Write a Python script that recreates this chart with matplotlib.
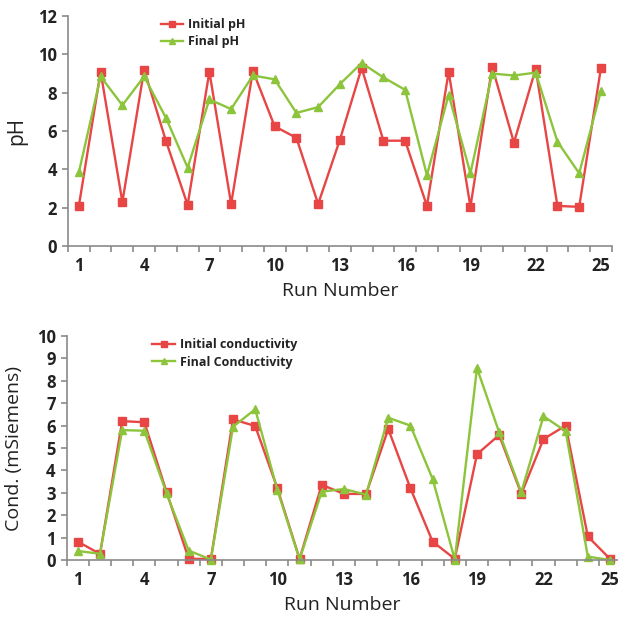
import matplotlib
matplotlib.use("Agg")
import matplotlib.pyplot as plt
from matplotlib.ticker import FixedLocator

runs = list(range(1, 26))
initial_ph = [2.1, 9.1, 2.3, 9.2, 5.5, 2.15, 9.1, 2.2, 9.15, 6.25, 5.65, 2.2, 5.55, 9.3,
              5.5, 5.5, 2.1, 9.1, 2.05, 9.35, 5.4, 9.25, 2.1, 2.05, 9.3]
final_ph = [3.85, 8.85, 7.35, 8.85, 6.7, 4.1, 7.65, 7.15, 8.9, 8.7, 6.95, 7.25, 8.45, 9.55,
            8.8, 8.15, 3.7, 7.9, 3.8, 9.0, 8.9, 9.05, 5.45, 3.8, 8.1]
initial_cond = [0.82, 0.27, 6.2, 6.15, 3.04, 0.05, 0.05, 6.28, 5.98, 3.2, 0.05, 3.36, 2.95,
                2.95, 5.85, 3.2, 0.82, 0.05, 4.72, 5.58, 2.95, 5.4, 6.0, 1.05, 0.05]
final_cond = [0.4, 0.28, 5.8, 5.77, 2.98, 0.42, 0.02, 5.95, 6.73, 3.12, 0.03, 3.05, 3.17,
              2.92, 6.35, 6.0, 3.62, 0.02, 8.57, 5.7, 3.02, 6.42, 5.75, 0.15, 0.0]
x_tick_labels = [1, 4, 7, 10, 13, 16, 19, 22, 25]

RED = '#e84545'
GREEN = '#8cc43c'
TXT = '#222222'
AX = '#8a8a8a'

plt.rcParams['font.family'] = ['Open Sans', 'DejaVu Sans']

fig = plt.figure(figsize=(6.18, 6.17), dpi=100)


def style(ax, ymax, ystep, xmax):
    ax.set_xlim(0.5, xmax)
    ax.set_ylim(0, ymax)
    for s in ('top', 'right'):
        ax.spines[s].set_visible(False)
    for s in ('left', 'bottom'):
        ax.spines[s].set_color(AX)
        ax.spines[s].set_linewidth(1.2)
    ax.set_yticks(range(0, ymax + 1, ystep))
    ax.set_xticks(x_tick_labels)
    ax.set_xticklabels([str(v) for v in x_tick_labels])
    ax.tick_params(axis='x', which='major', length=0, pad=8)
    ax.xaxis.set_minor_locator(FixedLocator([i + 0.5 for i in range(0, 26)]))
    ax.tick_params(axis='x', which='minor', length=4, color=AX, width=1.2)
    ax.tick_params(axis='y', length=4, color=AX, width=1.2, pad=4)
    for lab in ax.get_xticklabels() + ax.get_yticklabels():
        lab.set_fontweight('bold')
        lab.set_fontsize(12)
        lab.set_color(TXT)


ax1 = fig.add_axes([0.110, 0.601, 0.880, 0.373])
ax1.plot(runs, initial_ph, color=RED, lw=1.7, marker='s', ms=6, label='Initial pH')
ax1.plot(runs, final_ph, color=GREEN, lw=1.7, marker='^', ms=5.5, label='Final pH')
style(ax1, 12, 2, 25.5)
ax1.set_ylabel('pH', fontsize=15, color=TXT, labelpad=8)
ax1.set_xlabel('Run Number', fontsize=14, color=TXT, labelpad=5)
leg1 = ax1.legend(loc='upper left', bbox_to_anchor=(0.15, 1.04), frameon=False,
                  handlelength=1.8, handletextpad=0.4, labelspacing=0.35, markerscale=0.8,
                  prop={'size': 9, 'weight': 'bold'})
for t in leg1.get_texts():
    t.set_color(TXT)

ax2 = fig.add_axes([0.108, 0.0924, 0.892, 0.363])
ax2.plot(runs, initial_cond, color=RED, lw=1.7, marker='s', ms=6, label='Initial conductivity',
         clip_on=False)
ax2.plot(runs, final_cond, color=GREEN, lw=1.7, marker='^', ms=5.5, label='Final Conductivity',
         clip_on=False)
style(ax2, 10, 1, 25.36)
ax2.set_ylabel('Cond. (mSiemens)', fontsize=14, color=TXT, labelpad=10)
ax2.set_xlabel('Run Number', fontsize=14, color=TXT, labelpad=5)
leg2 = ax2.legend(loc='upper left', bbox_to_anchor=(0.135, 1.04), frameon=False,
                  handlelength=1.8, handletextpad=0.4, labelspacing=0.35, markerscale=0.8,
                  prop={'size': 9, 'weight': 'bold'})
for t in leg2.get_texts():
    t.set_color(TXT)

fig.savefig('out.png', dpi=100)
